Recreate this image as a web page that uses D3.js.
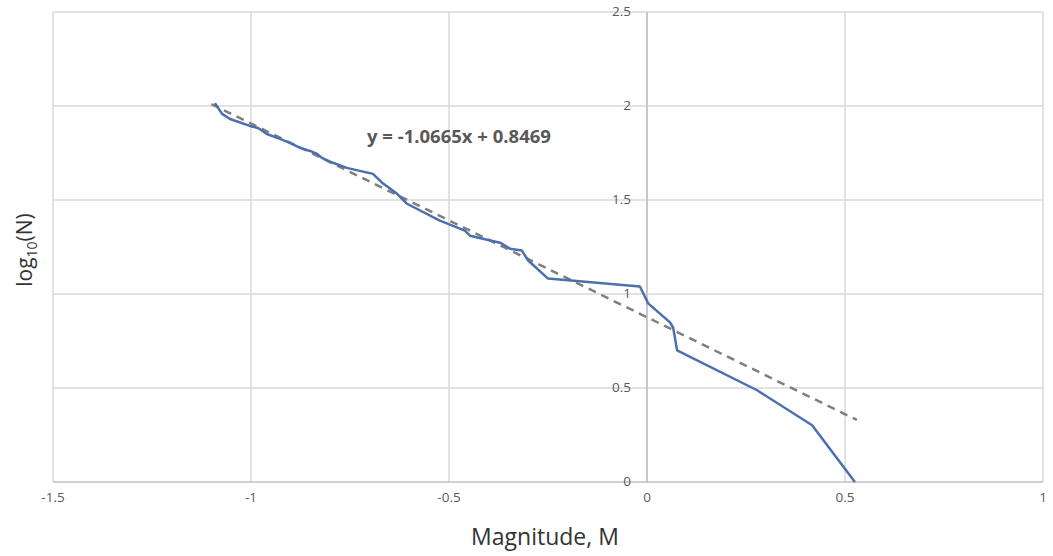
<!doctype html>
<html>
<head>
<meta charset="utf-8">
<script src="https://cdnjs.cloudflare.com/ajax/libs/d3/7.8.5/d3.min.js"></script>
<style>
    body { margin: 0; background: #fff; }
    svg text { font-family: "Open Sans", "Noto Sans", sans-serif; }
</style>
</head>
<body>
<svg id="chart" width="1053" height="556"></svg>
<script>
// values
var magnitude = [-1.091, -1.073, -1.053, -1.003, -0.982, -0.96, -0.927, -0.902, -0.876, -0.851,
                 -0.833, -0.821, -0.793, -0.758, -0.725, -0.692, -0.669, -0.631, -0.606, -0.523,
                 -0.46, -0.447, -0.371, -0.346, -0.316, -0.30, -0.25, -0.018, 0.003, 0.058,
                 0.066, 0.076, 0.278, 0.417, 0.525];
var logN = [2.015, 1.958, 1.931, 1.894, 1.883, 1.851, 1.825, 1.804, 1.777, 1.761,
            1.745, 1.724, 1.698, 1.671, 1.655, 1.639, 1.592, 1.533, 1.48, 1.39,
            1.337, 1.31, 1.273, 1.241, 1.231, 1.178, 1.082, 1.04, 0.95, 0.849,
            0.822, 0.70, 0.488, 0.302, 0];
// dashed trend line ends
var trendX = [-1.1, 0.53];
var trendY = [2.01, 0.33];
var trendLabel = "y = -1.0665x + 0.8469";

var xTicks = [-1.5, -1, -0.5, 0, 0.5, 1];
var yTicks = [0, 0.5, 1, 1.5, 2, 2.5];

var svg = d3.select("#chart");
var plotL = 53, plotR = 1043, plotT = 12, plotB = 482;

var x = d3.scaleLinear().domain([-1.5, 1]).range([plotL, plotR]);
var y = d3.scaleLinear().domain([0, 2.5]).range([plotB, plotT]);

// grid
svg.append("g")
    .selectAll("line")
    .data(xTicks)
    .enter().append("line")
    .attr("x1", d => x(d)).attr("x2", d => x(d))
    .attr("y1", plotT).attr("y2", plotB)
    .attr("stroke", "#d9d9d9").attr("stroke-width", 1.5);

svg.append("g")
    .selectAll("line")
    .data(yTicks)
    .enter().append("line")
    .attr("x1", plotL).attr("x2", plotR)
    .attr("y1", d => y(d)).attr("y2", d => y(d))
    .attr("stroke", d => d == 0 ? "#bfbfbf" : "#d9d9d9").attr("stroke-width", 1.5);

// y axis sits on x = 0
svg.append("line")
    .attr("x1", x(0)).attr("x2", x(0))
    .attr("y1", plotT).attr("y2", plotB)
    .attr("stroke", "#bfbfbf").attr("stroke-width", 1.5);

// tick labels
svg.append("g")
    .selectAll("text")
    .data(yTicks)
    .enter().append("text")
    .attr("x", x(0) - 16)
    .attr("y", d => y(d))
    .attr("dy", "0.3em")
    .attr("text-anchor", "end")
    .attr("font-size", "13.5px")
    .attr("fill", "#595959")
    .text(d => d);

svg.append("g")
    .selectAll("text")
    .data(xTicks)
    .enter().append("text")
    .attr("x", d => x(d))
    .attr("y", plotB + 15)
    .attr("dy", "0.35em")
    .attr("text-anchor", "middle")
    .attr("font-size", "13.5px")
    .attr("fill", "#595959")
    .text(d => d);

// trend line
var line = d3.line().x(d => x(d[0])).y(d => y(d[1]));

svg.append("path")
    .datum(d3.zip(trendX, trendY))
    .attr("d", line)
    .attr("fill", "none")
    .attr("stroke", "#7f7f7f")
    .attr("stroke-width", 2.5)
    .attr("stroke-dasharray", "8,6");

// data
svg.append("path")
    .datum(d3.zip(magnitude, logN))
    .attr("d", line)
    .attr("fill", "none")
    .attr("stroke", "#4a70b0")
    .attr("stroke-width", 2.5)
    .attr("stroke-linejoin", "round");

svg.append("text")
    .attr("x", 367)
    .attr("y", 143)
    .attr("font-size", "18.5px")
    .attr("font-weight", "bold")
    .attr("fill", "#595959")
    .text(trendLabel);

// axis titles
svg.append("text")
    .attr("x", 545)
    .attr("y", 545)
    .attr("text-anchor", "middle")
    .attr("font-size", "23px")
    .attr("fill", "#333")
    .text("Magnitude, M");

var yt = svg.append("text")
    .attr("transform", "translate(32,250) rotate(-90)")
    .attr("text-anchor", "middle")
    .attr("font-size", "21px")
    .attr("fill", "#333");
yt.append("tspan").text("log");
yt.append("tspan").attr("font-size", "14px").attr("dy", 5).text("10");
yt.append("tspan").attr("dy", -5).text("(N)");
</script>
</body>
</html>
